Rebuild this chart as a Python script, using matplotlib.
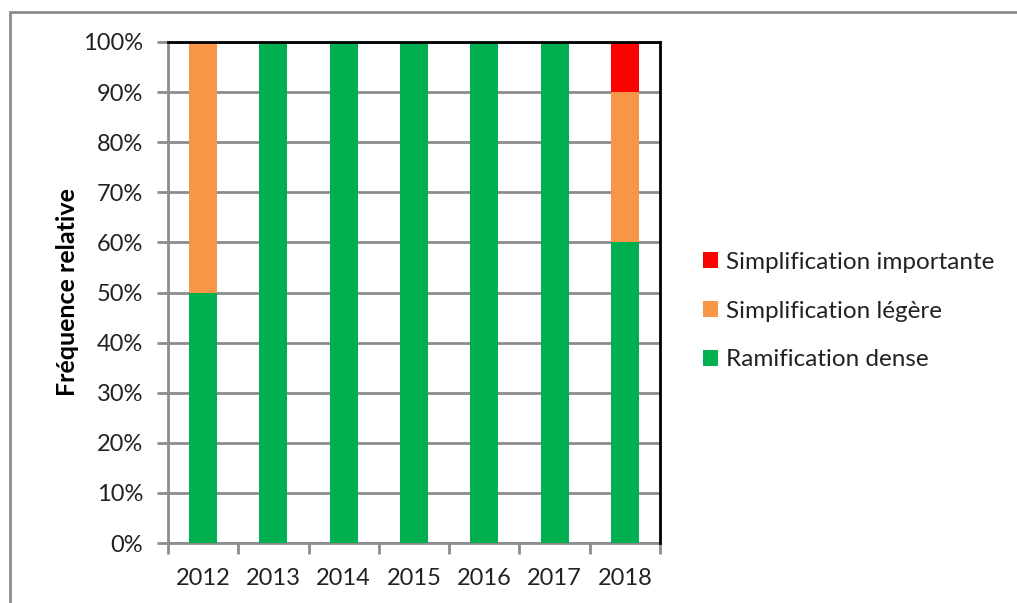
import numpy as np
import matplotlib.pyplot as plt
from matplotlib.patches import Rectangle
from matplotlib.ticker import FuncFormatter, FixedLocator

years = ['2012', '2013', '2014', '2015', '2016', '2017', '2018']
dense = [50, 100, 100, 100, 100, 100, 60]
legere = [50, 0, 0, 0, 0, 0, 30]
importante = [0, 0, 0, 0, 0, 0, 10]

series_names = ['Ramification dense', 'Simplification légère', 'Simplification importante']
colors = ['#00B050', '#F79646', '#FF0000']

plt.rcParams['font.family'] = ['Lato', 'DejaVu Sans']

fig = plt.figure(figsize=(10.17, 6.03), dpi=100)
ax = fig.add_axes([168 / 1017, 1 - 543 / 603, 492 / 1017, 501 / 603])

# outer chart border (runs off the right and bottom edges)
fig.patches.append(Rectangle((10 / 1017, -0.1), 1.2, 1 - 12 / 603 + 0.1,
                             transform=fig.transFigure, fill=False,
                             edgecolor='#8c8c8c', linewidth=2, zorder=0))

x = np.arange(len(years))
w = 0.4
bottom = np.zeros(len(years))
for vals, name, c in zip([dense, legere, importante], series_names, colors):
    ax.bar(x, vals, w, bottom=bottom, color=c, label=name, zorder=3)
    bottom += np.array(vals)

ax.set_xlim(-0.5, len(years) - 0.5)
ax.set_ylim(0, 100)
ax.set_yticks(np.arange(0, 101, 10))
ax.yaxis.set_major_formatter(FuncFormatter(lambda v, p: f'{int(v)}%'))
ax.yaxis.grid(True, color='#8c8c8c', linewidth=2, zorder=0)

ax.set_xticks(x)
ax.set_xticklabels(years)
ax.xaxis.set_minor_locator(FixedLocator(np.arange(-0.5, len(years), 1)))
ax.tick_params(axis='x', which='major', length=0, pad=18, labelsize=17, colors='#222222')
ax.tick_params(axis='x', which='minor', length=8, width=2, color='#8c8c8c', direction='out')
ax.tick_params(axis='y', length=8, width=2, color='#8c8c8c', direction='out',
               labelsize=17, labelcolor='#222222', pad=10)

for s in ['left', 'bottom']:
    ax.spines[s].set_color('#8c8c8c')
    ax.spines[s].set_linewidth(2)
for s in ['top', 'right']:
    ax.spines[s].set_color('black')
    ax.spines[s].set_linewidth(2)
    ax.spines[s].set_zorder(5)

ax.set_ylabel('Fréquence relative', fontsize=18, fontweight='bold', labelpad=3)

handles, labels = ax.get_legend_handles_labels()
leg = fig.legend(handles[::-1], labels[::-1], loc='center left',
                 bbox_to_anchor=(703 / 1017, 1 - 311 / 603), frameon=False,
                 fontsize=17.5, handlelength=0.6, handleheight=0.6,
                 handletextpad=0.35, labelspacing=1.15, borderpad=0,
                 borderaxespad=0)
for t in leg.get_texts():
    t.set_color('#222222')

fig.savefig('out.png', dpi=100)
